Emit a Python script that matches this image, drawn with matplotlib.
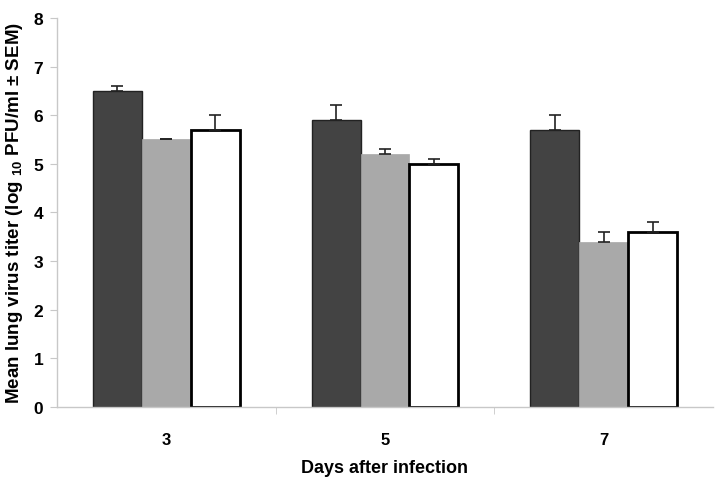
import matplotlib
matplotlib.use("Agg")
import matplotlib.pyplot as plt
import numpy as np

days = ["3", "5", "7"]
dark_vals = [6.5, 5.9, 5.7]
dark_err = [0.1, 0.3, 0.3]
gray_vals = [5.5, 5.2, 3.4]
gray_err = [0.0, 0.1, 0.2]
white_vals = [5.7, 5.0, 3.6]
white_err = [0.3, 0.1, 0.2]

plt.rcParams['font.family'] = ['Liberation Sans', 'DejaVu Sans']
plt.rcParams['mathtext.fontset'] = 'custom'
plt.rcParams['mathtext.rm'] = 'Liberation Sans:bold'
plt.rcParams['mathtext.bf'] = 'Liberation Sans:bold'

fig = plt.figure(figsize=(7.23, 4.85), dpi=100)
ax = fig.add_axes([0.079, 0.159, 0.907, 0.802])

x = np.arange(len(days))
w = 0.224
ekw = dict(elinewidth=1.2, capthick=1.2, ecolor='#222222')
ax.bar(x - w, dark_vals, w, color='#434343', edgecolor='#222222', linewidth=1.0,
       yerr=[np.zeros(3), dark_err], capsize=4, error_kw=ekw, zorder=2)
ax.bar(x, gray_vals, w, color='#a9a9a9', edgecolor='#a9a9a9', linewidth=0.5,
       yerr=[np.zeros(3), gray_err], capsize=4, error_kw=ekw, zorder=2)
ax.bar(x + w, white_vals, w, color='white', edgecolor='black', linewidth=2.0,
       yerr=[np.zeros(3), white_err], capsize=4, error_kw=ekw, zorder=2)

ax.set_xlim(-0.5, 2.5)
ax.set_ylim(0, 8)
ax.set_yticks(range(0, 9))
ax.set_xticks(x)
ax.set_xticklabels(days, fontweight='bold', fontsize=12)
ax.set_xticks([0.5, 1.5], minor=True)
ax.tick_params(axis='x', which='major', length=0, pad=18)
ax.tick_params(axis='x', which='minor', length=5, color='#c8c8c8')
ax.tick_params(axis='y', length=5, color='#c8c8c8', labelsize=12.5, pad=5)
for lab in ax.get_yticklabels():
    lab.set_fontweight('bold')

for s in ['top', 'right']:
    ax.spines[s].set_visible(False)
for s in ['left', 'bottom']:
    ax.spines[s].set_color('#c8c8c8')
    ax.spines[s].set_linewidth(1.0)

ax.set_xlabel('Days after infection', fontweight='bold', fontsize=13, labelpad=9)
ax.set_ylabel('Mean lung virus titer (log $_{\\mathrm{10}}$ PFU/ml ± SEM)',
              fontweight='bold', fontsize=13.5, labelpad=6)

fig.savefig('out.png', dpi=100)
